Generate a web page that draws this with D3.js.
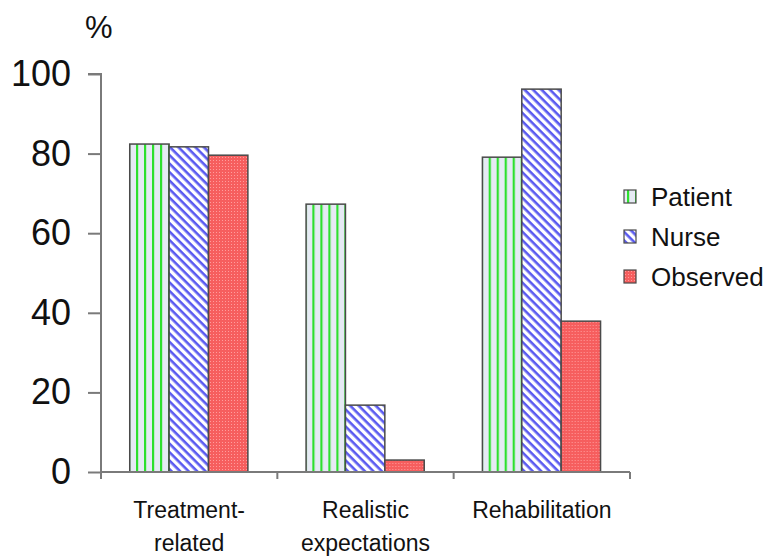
<!DOCTYPE html>
<html><head><meta charset="utf-8">
<script src="https://cdn.jsdelivr.net/npm/d3@7"></script>
<style>body{margin:0;background:#fff}svg{display:block}text{font-family:"Liberation Sans",Arial,sans-serif;fill:#111}</style>
</head><body>
<script>
const categories = [["Treatment-","related"],["Realistic","expectations"],["Rehabilitation"]];
const series = ["Patient","Nurse","Observed"];
const patient = [82.4, 67.3, 79.1];
const nurse = [81.7, 16.8, 96.2];
const observed = [79.6, 3.0, 37.9];
const yTicks = [0,20,40,60,80,100];

const W=779,H=560;
const svg=d3.select("body").append("svg").attr("width",W).attr("height",H);
const defs=svg.append("defs");

// patterns
const p1=defs.append("pattern").attr("id","pPatient").attr("patternUnits","userSpaceOnUse").attr("width",8).attr("height",8).attr("x",129);
p1.append("rect").attr("width",8).attr("height",8).attr("fill","#e6eaf4");
p1.append("rect").attr("x",2).attr("width",2.2).attr("height",8).attr("fill","#2ee02e");
const p2=defs.append("pattern").attr("id","pNurse").attr("patternUnits","userSpaceOnUse").attr("width",6).attr("height",6).attr("patternTransform","rotate(45)");
p2.append("rect").attr("width",6).attr("height",6).attr("fill","#ffffff");
p2.append("rect").attr("width",6).attr("height",2.6).attr("fill","#5a5af0");
const p3=defs.append("pattern").attr("id","pObserved").attr("patternUnits","userSpaceOnUse").attr("width",3).attr("height",3);
p3.append("rect").attr("width",3).attr("height",3).attr("fill","#f65e5e");
p3.append("rect").attr("x",1).attr("y",1).attr("width",1).attr("height",1).attr("fill","#ff9c9c");
const fills={Patient:"url(#pPatient)",Nurse:"url(#pNurse)",Observed:"url(#pObserved)"};
const valuesBySeries={Patient:patient,Nurse:nurse,Observed:observed};

const x0=d3.scaleBand().domain(d3.range(categories.length)).range([101,630]).paddingInner(0).paddingOuter(0);
const bw=x0.bandwidth();
const x1=d3.scaleBand().domain(series).range([bw*0.163,bw*0.833]).padding(0);
const y=d3.scaleLinear().domain([0,100]).range([472,74]);

const axisColor="#7a7a7a";
// y axis
const ya=svg.append("g").attr("transform","translate(101,0)")
  .call(d3.axisLeft(y).tickValues(yTicks).tickSize(13).tickPadding(17).tickFormat(d3.format("d")));
ya.select(".domain").attr("stroke",axisColor).attr("stroke-width",2).attr("d","M-13,74H0V472");
ya.selectAll(".tick line").attr("stroke",axisColor).attr("stroke-width",2);
ya.selectAll(".tick text").attr("font-size",36).attr("font-family","Liberation Sans, Arial, sans-serif").attr("fill","#1a1a1a");

// bars
const groups=svg.append("g").selectAll("g").data(categories).join("g")
  .attr("transform",(d,i)=>`translate(${x0(i)},0)`);
groups.selectAll("rect").data((d,i)=>series.map(s=>({s,v:valuesBySeries[s][i]}))).join("rect")
  .attr("x",d=>x1(d.s)).attr("width",x1.bandwidth())
  .attr("y",d=>y(d.v)).attr("height",d=>y(0)-y(d.v))
  .attr("fill",d=>fills[d.s]).attr("stroke","#4a4a4a").attr("stroke-width",1.5);

// x axis
const xa=svg.append("g").attr("transform","translate(0,472)");
xa.append("line").attr("x1",101).attr("x2",630).attr("stroke",axisColor).attr("stroke-width",2);
const bounds=d3.range(categories.length+1).map(i=>i<categories.length?x0(i):x0(categories.length-1)+bw);
xa.selectAll("line.t").data(bounds).join("line").attr("class","t")
  .attr("x1",d=>d).attr("x2",d=>d).attr("y1",0).attr("y2",7).attr("stroke",axisColor).attr("stroke-width",2);
const lbl=svg.append("g").selectAll("text").data(categories).join("text")
  .attr("text-anchor","middle").attr("font-size",23)
  .attr("x",(d,i)=>x0(i)+bw/2).attr("y",518);
lbl.selectAll("tspan").data(d=>d).join("tspan")
  .attr("x",function(){return d3.select(this.parentNode).attr("x");})
  .attr("dy",(d,i)=>i===0?0:33).text(d=>d);

// % label
svg.append("text").attr("x",85).attr("y",38).attr("font-size",31).text("%");

// legend
const lg=svg.append("g").selectAll("g").data(series).join("g")
  .attr("transform",(d,i)=>`translate(624,${190+i*40})`);
lg.append("rect").attr("width",12).attr("height",13).attr("fill",d=>fills[d]).attr("stroke","#4a4a4a").attr("stroke-width",1.2);
lg.append("text").attr("x",27).attr("y",16).attr("font-size",26).text(d=>d);
</script>
</body></html>
